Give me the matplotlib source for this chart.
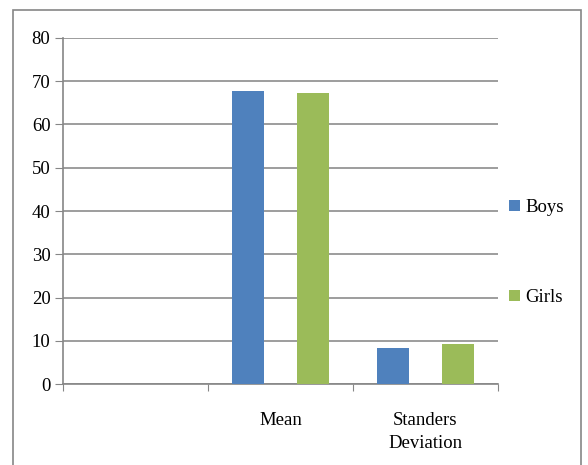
import matplotlib
matplotlib.use("Agg")
import matplotlib.pyplot as plt
from matplotlib.patches import Rectangle
import numpy as np

categories = ["", "Mean", "Standers\nDeviation"]
boys = [0, 67.7, 8.4]
girls = [0, 67.3, 9.3]
series_names = ["Boys", "Girls"]
colors = ["#4F81BD", "#9BBB59"]

plt.rcParams['font.family'] = ['Liberation Serif', 'DejaVu Serif']
FS = 13.5

fig = plt.figure(figsize=(5.88, 4.65), dpi=100)
# outer chart frame
fig.patches.append(Rectangle((13/588, -0.05), (581-13)/588, 1 - 10/465 + 0.05,
                             transform=fig.transFigure, fill=False,
                             edgecolor="#868686", linewidth=1.2))

ax = fig.add_axes([63/588, 1 - 384/465, (498-63)/588, (384-38)/465])
x = np.arange(len(categories))
w = 0.22
gap = 0.225
ax.bar(x - gap, boys, w, color=colors[0], label=series_names[0], zorder=3)
ax.bar(x + gap, girls, w, color=colors[1], label=series_names[1], zorder=3)

ax.set_xlim(-0.5, len(categories) - 0.5)
ax.set_ylim(0, 80)
ax.set_yticks(np.arange(0, 81, 10))
ax.set_xticks(np.arange(-0.5, len(categories), 1.0))
ax.set_xticklabels([])
ax.set_xticks(x, minor=True)
ax.set_xticklabels(categories, minor=True, fontsize=FS, linespacing=1.45)
ax.tick_params(axis='x', which='minor', length=0, pad=20)
ax.tick_params(axis='x', which='major', length=5, color="#868686", direction='out')
ax.tick_params(axis='y', length=6, color="#868686", labelsize=FS, pad=3)
ax.grid(axis='y', color="#8c8c8c", linewidth=1.2, zorder=0)
for s in ['top', 'right']:
    ax.spines[s].set_visible(False)
ax.spines['left'].set_color("#868686")
ax.spines['bottom'].set_color("#868686")
ax.spines['left'].set_linewidth(1.2)
ax.spines['bottom'].set_linewidth(1.2)

leg = ax.legend(loc='center left', bbox_to_anchor=(1.0, 0.38), frameon=False,
                fontsize=FS, handlelength=0.55, handleheight=0.55, handletextpad=0.3,
                labelspacing=3.9, borderaxespad=0.2)

fig.savefig("out.png", dpi=100)
